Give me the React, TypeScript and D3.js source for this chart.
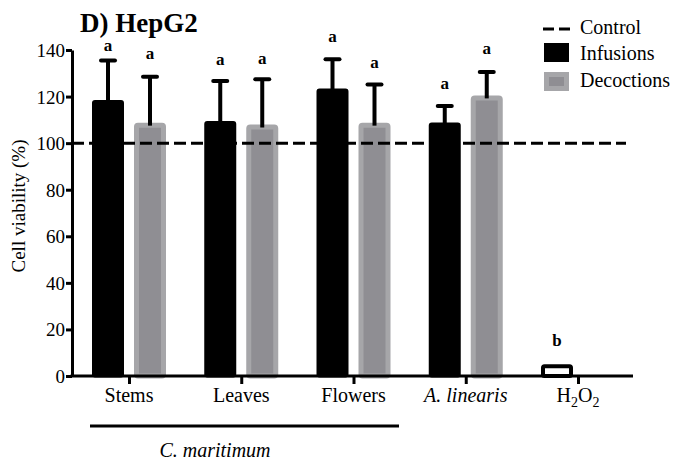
import React, { useRef, useEffect } from 'react';
import * as d3 from 'd3';

// values
const categories = ['Stems', 'Leaves', 'Flowers', 'A. linearis', 'H2O2'];
const infusionMean = [118.5, 109.5, 123.5, 108.9, 5];
const infusionErr = [17, 17.2, 12.5, 7, 0];
const decoctionMean = [108.8, 108, 108.8, 120.5, null];
const decoctionErr = [19.7, 19.4, 16.4, 10.1, null];
const infusionLetter = ['a', 'a', 'a', 'a', 'b'];
const decoctionLetter = ['a', 'a', 'a', 'a', null];
const infusionLetterAt = [141.3, 135.2, 145, 125, 14.6];
const decoctionLetterAt = [137.8, 135.7, 134.2, 140, null];
const yTicks = [0, 20, 40, 60, 80, 100, 120, 140];
const controlValue = 100;

const W = 694;
const H = 465;
const FONT = 'Liberation Serif, Times New Roman, serif';
const GREY = '#8f8e93';
const GREY_EDGE = '#a6a6a9';

const App = () => {
  const svgRef = useRef(null);

  useEffect(() => {
    const svg = d3.select(svgRef.current);
    svg.selectAll('*').remove();

    const x0 = 72;
    const xEnd = 633;
    const yScale = d3.scaleLinear().domain([0, 140]).range([376, 50]);
    const xScale = d3.scalePoint().domain(categories).range([129, 578]);
    const sub = d3.scaleBand().domain(['inf', 'dec']).range([-37, 37]).paddingInner(0.238);
    const bw = sub.bandwidth();

    // title
    svg.append('text')
      .attr('x', 80).attr('y', 32)
      .attr('font-family', FONT).attr('font-weight', 'bold').attr('font-size', 27)
      .text('D) HepG2');

    // y axis
    const yAxis = svg.append('g')
      .attr('transform', `translate(${x0},0)`)
      .call(d3.axisLeft(yScale).tickValues(yTicks).tickSize(6).tickSizeOuter(0).tickPadding(1));
    yAxis.attr('font-family', FONT).attr('font-size', 19);
    yAxis.select('.domain').attr('stroke-width', 3).attr('stroke', '#000');
    yAxis.selectAll('.tick line').attr('stroke-width', 3).attr('stroke', '#000');
    yAxis.selectAll('.tick text').attr('fill', '#000').attr('dy', '0.34em');

    svg.append('text')
      .attr('transform', 'translate(25,206) rotate(-90)')
      .attr('text-anchor', 'middle')
      .attr('font-family', FONT).attr('font-size', 19)
      .text('Cell viability (%)');

    // bars
    const g = svg.append('g');
    const drawBar = (cx, v, fill, stroke, sw) => {
      const top = yScale(v);
      g.append('rect')
        .attr('x', cx + sw / 2).attr('y', top + sw / 2)
        .attr('width', bw - sw).attr('height', yScale(0) - top - sw / 2)
        .attr('rx', 1.5)
        .attr('fill', fill).attr('stroke', stroke).attr('stroke-width', sw)
        .attr('stroke-linejoin', 'round');
    };
    const drawErr = (cx, v, e) => {
      const mid = cx + bw / 2;
      g.append('line')
        .attr('x1', mid).attr('x2', mid)
        .attr('y1', yScale(v) + 3).attr('y2', yScale(v + e))
        .attr('stroke', '#000').attr('stroke-width', 4);
      g.append('line')
        .attr('x1', mid - 7).attr('x2', mid + 7)
        .attr('y1', yScale(v + e)).attr('y2', yScale(v + e))
        .attr('stroke', '#000').attr('stroke-width', 4).attr('stroke-linecap', 'round');
    };
    const drawLetter = (cx, at, txt) => {
      g.append('text')
        .attr('x', cx + bw / 2).attr('y', yScale(at) + 4)
        .attr('text-anchor', 'middle')
        .attr('font-family', FONT).attr('font-weight', 'bold').attr('font-size', 17)
        .text(txt);
    };

    categories.forEach((c, i) => {
      const ix = xScale(c) + sub('inf');
      const dx = xScale(c) + sub('dec');
      if (c === 'H2O2') {
        drawBar(ix, infusionMean[i], '#fff', '#000', 4);
      } else {
        drawBar(ix, infusionMean[i], '#000', '#000', 3);
        drawErr(ix, infusionMean[i], infusionErr[i]);
      }
      if (decoctionMean[i] != null) {
        drawBar(dx, decoctionMean[i], GREY, GREY_EDGE, 5);
        drawErr(dx, decoctionMean[i], decoctionErr[i]);
      }
      if (infusionLetter[i]) drawLetter(ix, infusionLetterAt[i], infusionLetter[i]);
      if (decoctionLetter[i]) drawLetter(dx, decoctionLetterAt[i], decoctionLetter[i]);
    });

    // control line
    svg.append('line')
      .attr('x1', x0).attr('x2', 626)
      .attr('y1', yScale(controlValue)).attr('y2', yScale(controlValue))
      .attr('stroke', '#000').attr('stroke-width', 3).attr('stroke-dasharray', '12 5');

    // x axis
    svg.append('line')
      .attr('x1', x0 - 1.5).attr('x2', xEnd)
      .attr('y1', yScale(0)).attr('y2', yScale(0))
      .attr('stroke', '#000').attr('stroke-width', 3);
    const xAxis = svg.append('g')
      .attr('transform', `translate(0,${yScale(0)})`)
      .call(d3.axisBottom(xScale).tickSize(8).tickSizeOuter(0).tickFormat(() => ''));
    xAxis.select('.domain').remove();
    xAxis.selectAll('.tick line').attr('stroke-width', 3).attr('stroke', '#000');

    categories.forEach((c) => {
      const t = svg.append('text')
        .attr('x', xScale(c)).attr('y', 402)
        .attr('text-anchor', 'middle')
        .attr('font-family', FONT).attr('font-size', 20);
      if (c === 'H2O2') {
        t.append('tspan').text('H');
        t.append('tspan').attr('dy', 5).attr('font-size', 14).text('2');
        t.append('tspan').attr('dy', -5).text('O');
        t.append('tspan').attr('dy', 5).attr('font-size', 14).text('2');
      } else {
        t.attr('font-style', c === 'A. linearis' ? 'italic' : 'normal').text(c);
      }
    });

    // C. maritimum bracket
    svg.append('line')
      .attr('x1', 90).attr('x2', 399).attr('y1', 426).attr('y2', 426)
      .attr('stroke', '#000').attr('stroke-width', 3);
    svg.append('text')
      .attr('x', 215).attr('y', 457).attr('text-anchor', 'middle')
      .attr('font-family', FONT).attr('font-size', 20).attr('font-style', 'italic')
      .text('C. maritimum');

    // legend
    const lg = svg.append('g').attr('transform', 'translate(543,0)');
    lg.append('line')
      .attr('x1', 0).attr('x2', 27).attr('y1', 29).attr('y2', 29)
      .attr('stroke', '#000').attr('stroke-width', 3).attr('stroke-dasharray', '11 5');
    lg.append('rect').attr('x', 1).attr('y', 43).attr('width', 25).attr('height', 19).attr('fill', '#000');
    lg.append('rect').attr('x', 3.5).attr('y', 74.5).attr('width', 20).attr('height', 14)
      .attr('fill', GREY).attr('stroke', GREY_EDGE).attr('stroke-width', 5);
    [['Control', 34], ['Infusions', 60], ['Decoctions', 87]].forEach(([label, y]) => {
      lg.append('text')
        .attr('x', 37).attr('y', y)
        .attr('font-family', FONT).attr('font-size', 20)
        .text(label);
    });
  }, []);

  return (
    <svg
      ref={svgRef}
      width={W}
      height={H}
      viewBox={`0 0 ${W} ${H}`}
      fontFamily={FONT}
      style={{ position: 'absolute', left: 0, top: 0, background: '#fff' }}
    ></svg>
  );
};

export default App;
